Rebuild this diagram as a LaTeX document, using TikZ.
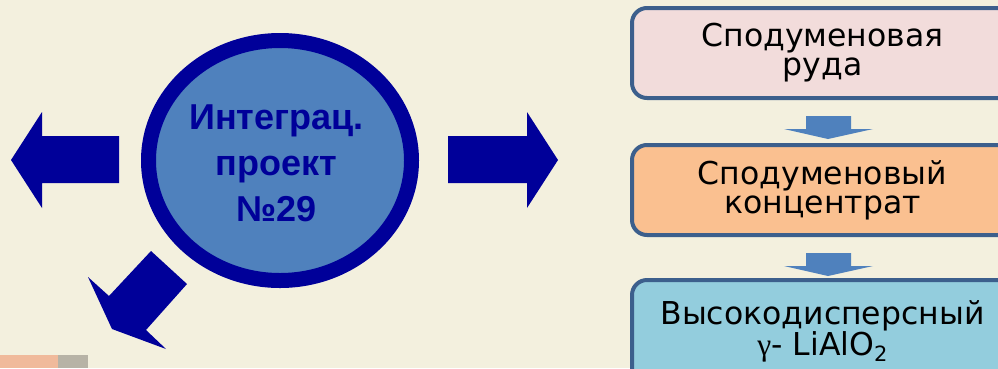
\documentclass[tikz,border=0pt]{standalone}
\usepackage{fontspec}
\setmainfont{DejaVu Sans}
\newfontfamily\hubfont{Liberation Sans}
\newfontfamily\symfont{Liberation Serif}
\definecolor{bgc}{HTML}{F3F0DE}
\definecolor{ringc}{HTML}{000099}
\definecolor{hubfill}{HTML}{4F81BD}
\definecolor{boxborder}{HTML}{3C5F8C}
\definecolor{fillore}{HTML}{F2DCDB}
\definecolor{fillconc}{HTML}{FAC090}
\definecolor{fillprod}{HTML}{93CDDD}
\definecolor{flowc}{HTML}{4F81BD}
\definecolor{peach}{HTML}{F0BA9B}
\definecolor{greyc}{HTML}{B7B3A6}
\tikzset{
  stagebox/.style={draw=boxborder, line width=4pt, rounded corners=15pt,
    minimum width=381pt, align=center, inner sep=0pt,
    font=\fontsize{31.5}{29}\selectfont, text=black},
  hubtext/.style={align=center, inner sep=0pt, text=ringc,
    font=\hubfont\bfseries\fontsize{36}{46}\selectfont},
  bigarrow/.style={fill=ringc},
  flow/.style={fill=flowc}
}
\begin{document}
\begin{tikzpicture}[x=1pt,y=-1pt]
\useasboundingbox (0,0) rectangle (998,368);
\clip (0,0) rectangle (998,368);
\fill[bgc] (0,0) rectangle (998,368);
% corner strip
\fill[peach] (0,355) rectangle (58,368);
\fill[greyc] (58,355) rectangle (88,368);
% hub
\draw[ringc, line width=15pt, fill=hubfill] (280,160.5) ellipse [x radius=131.5pt, y radius=120pt];
\node[hubtext] (hub) at (276.5,163) {Интеграц.\\проект\\№29};
% big arrows
\fill[bigarrow] (119,136) -- (42,136) -- (42,112) -- (11,160) -- (42,208) -- (42,183) -- (119,183) -- cycle;
\fill[bigarrow] (448,136) -- (527,136) -- (527,112) -- (558,160) -- (527,208) -- (527,183) -- (448,183) -- cycle;
\fill[bigarrow] (151,251) -- (187,284) -- (146,330) -- (166,349) -- (112,329) -- (88,277) -- (109,296) -- cycle;
% stages
\node[stagebox, fill=fillore, minimum height=90pt] (ore) at (822.5,53) {Сподуменовая\\руда};
\node[stagebox, fill=fillconc, minimum height=90pt] (conc) at (822.5,190) {Сподуменовый\\концентрат};
\node[stagebox, fill=fillprod, minimum height=103pt] (prod) at (822.5,331.5) {Высокодисперсный\\{\symfont γ}- LiAlO\raisebox{-6pt}{\fontsize{21}{21}\selectfont 2}};
% flow arrows
\foreach \n in {ore,conc}{
  \fill[flow] ([shift={(-16.5pt,-16pt)}]\n.south) -- ([shift={(28.5pt,-16pt)}]\n.south)
    -- ([shift={(28.5pt,-29pt)}]\n.south) -- ([shift={(50.5pt,-29pt)}]\n.south)
    -- ([shift={(5.5pt,-39pt)}]\n.south) -- ([shift={(-38.5pt,-29pt)}]\n.south)
    -- ([shift={(-16.5pt,-29pt)}]\n.south) -- cycle;
}
\end{tikzpicture}
\end{document}
